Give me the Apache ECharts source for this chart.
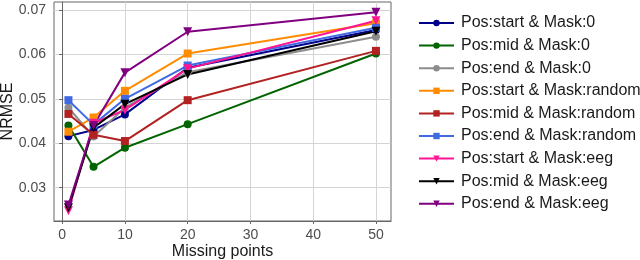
<!DOCTYPE html>
<html><head><meta charset="utf-8">
<script src="https://cdn.jsdelivr.net/npm/echarts@6/dist/echarts.min.js"></script>
<style>html,body{margin:0;padding:0;background:#fff}#c{width:640px;height:260px}</style>
</head><body><div id="c"></div>
<script>
const missingPoints = [1, 5, 10, 20, 50];
const xTicks = [0, 10, 20, 30, 40, 50];
const yTicks = [0.03, 0.04, 0.05, 0.06, 0.07];
const seriesNames = [
  'Pos:start & Mask:0', 'Pos:mid & Mask:0', 'Pos:end & Mask:0',
  'Pos:start & Mask:random', 'Pos:mid & Mask:random', 'Pos:end & Mask:random',
  'Pos:start & Mask:eeg', 'Pos:mid & Mask:eeg', 'Pos:end & Mask:eeg'
];
const startMask0 = [0.0416, 0.0430, 0.0465, 0.0570, 0.0655];
const midMask0 = [0.0440, 0.0347, 0.0390, 0.0443, 0.0602];
const endMask0 = [0.0480, 0.0415, 0.0480, 0.0560, 0.0640];
const startMaskRandom = [0.0426, 0.0458, 0.0518, 0.0602, 0.0670];
const midMaskRandom = [0.0466, 0.0419, 0.0405, 0.0497, 0.0608];
const endMaskRandom = [0.0497, 0.0442, 0.0500, 0.0575, 0.0660];
const startMaskEeg = [0.0248, 0.0445, 0.0475, 0.0568, 0.0676];
const midMaskEeg = [0.0255, 0.0435, 0.0488, 0.0555, 0.0652];
const endMaskEeg = [0.0261, 0.0440, 0.0559, 0.0651, 0.0695];
const allValues = [startMask0, midMask0, endMask0, startMaskRandom, midMaskRandom, endMaskRandom, startMaskEeg, midMaskEeg, endMaskEeg];
const colors = ['#00008b', '#006400', '#8c8c8c', '#ff8c00', '#b22222', '#4169e1', '#ff1493', '#000000', '#800080'];
const symbols = ['circle', 'circle', 'circle', 'rect', 'rect', 'rect', 'triangle', 'triangle', 'triangle'];

const FONT = 'Liberation Sans, Arial, sans-serif';
const chart = echarts.init(document.getElementById('c'), null, {renderer: 'canvas'});
const series = seriesNames.map((name, i) => ({
  name: name,
  type: 'line',
  data: missingPoints.map((x, j) => [x, allValues[i][j]]),
  symbol: symbols[i],
  symbolSize: symbols[i] === 'triangle' ? 9 : 8,
  symbolRotate: symbols[i] === 'triangle' ? 180 : 0,
  showAllSymbol: true,
  color: colors[i],
  lineStyle: {width: 2, color: colors[i]},
  itemStyle: {color: colors[i]},
  emphasis: {disabled: true},
  animation: false
}));

chart.setOption({
  animation: false,
  backgroundColor: '#fff',
  grid: {left: 54, top: 2, right: 249, bottom: 39, show: true, borderColor: '#666', borderWidth: 1,
    containLabel: false, outerBoundsMode: 'none'},
  xAxis: {
    type: 'value', min: -1.3, max: 52.4,
    name: 'Missing points', nameLocation: 'middle', nameGap: 23, nameMoveOverlap: false,
    nameTextStyle: {fontFamily: FONT, fontSize: 16, color: '#1a1a1a'},
    axisLine: {show: true, onZero: false, lineStyle: {color: '#666'}},
    axisTick: {show: true, length: 3, lineStyle: {color: '#666'}, customValues: xTicks},
    axisLabel: {fontFamily: FONT, fontSize: 14, color: '#4d4d4d', margin: 7, customValues: xTicks},
    splitLine: {show: true, lineStyle: {color: '#d4d4d4', width: 1}}
  },
  yAxis: {
    type: 'value', min: 0.0225, max: 0.0718,
    name: 'NRMSE', nameLocation: 'middle', nameGap: 38, nameMoveOverlap: false,
    nameTextStyle: {fontFamily: FONT, fontSize: 16, color: '#1a1a1a'},
    axisLine: {show: true, lineStyle: {color: '#666'}},
    axisTick: {show: true, length: 3, lineStyle: {color: '#666'}, customValues: yTicks},
    axisLabel: {fontFamily: FONT, fontSize: 14, color: '#4d4d4d', margin: 8, customValues: yTicks,
      formatter: v => v.toFixed(2)},
    splitLine: {show: true, lineStyle: {color: '#d4d4d4', width: 1}}
  },
  legend: {
    orient: 'vertical', left: 413, top: 10,
    itemWidth: 35, itemHeight: 8, itemGap: 6.6,
    textStyle: {fontFamily: FONT, fontSize: 16, color: '#1a1a1a', lineHeight: 16, padding: [0, 0, 0, 2]},
    data: seriesNames,
    selectedMode: false
  },
  series: series
});
</script></body></html>
